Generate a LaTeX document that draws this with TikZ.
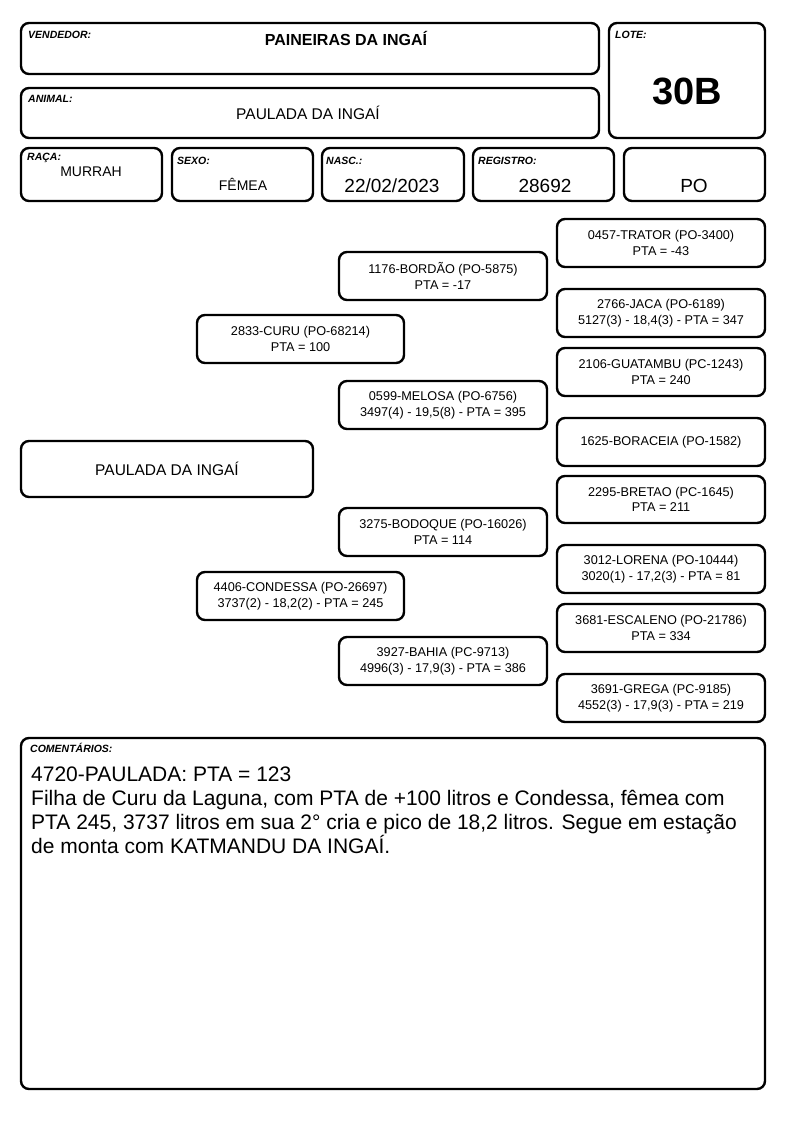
\documentclass[tikz,border=0pt]{standalone}
\usepackage{fontspec}
\setmainfont{Liberation Sans}
\begin{document}
\begin{tikzpicture}[x=1pt,y=-1pt,
  box/.style={draw=black, line width=2.4pt, rounded corners=8pt, fill=white, inner sep=0pt},
  ped/.style={box, minimum width=208pt, minimum height=48pt, align=center, font=\fontsize{12.7}{15.5}\selectfont},
  lbl/.style={anchor=west, inner sep=0pt, font=\fontsize{10.5}{12}\selectfont\bfseries\itshape},
  val/.style={inner sep=0pt}]
\useasboundingbox (0,0) rectangle (794,1123);
% header boxes
\node[box, minimum width=578pt, minimum height=51pt] (vend) at (310,48.5) {};
\node[box, minimum width=156pt, minimum height=115pt] (lote) at (687,80.5) {};
\node[box, minimum width=578pt, minimum height=50pt] (anim) at (310,113) {};
\node[box, minimum width=141pt, minimum height=53pt] (raca) at (91.5,174.5) {};
\node[box, minimum width=141pt, minimum height=53pt] (sexo) at (242.5,174.5) {};
\node[box, minimum width=142pt, minimum height=53pt] (nasc) at (393,174.5) {};
\node[box, minimum width=141pt, minimum height=53pt] (regi) at (543.5,174.5) {};
\node[box, minimum width=141pt, minimum height=53pt] (cat) at (694.5,174.5) {};
% labels
\node[lbl] (lvend) at (28,35) {VENDEDOR:};
\node[lbl] (llote) at (615,35) {LOTE:};
\node[lbl] (lanim) at (28,99) {ANIMAL:};
\node[lbl] (lraca) at (27,158) {RAÇA:};
\node[lbl] (lsexo) at (177,161) {SEXO:};
\node[lbl] (lnasc) at (326,161) {NASC.:};
\node[lbl] (lregi) at (478,161) {REGISTRO:};
% values
\node[val, font=\fontsize{16}{19}\selectfont\bfseries] (vvend) at (346,38) {PAINEIRAS DA INGAÍ};
\node[val, font=\fontsize{38}{44}\selectfont\bfseries] (vlote) at (687,91) {30B};
\node[val, font=\fontsize{15.5}{18}\selectfont] (vanim) at (308,113) {PAULADA DA INGAÍ};
\node[val, font=\fontsize{14}{17}\selectfont] (vraca) at (91,172) {MURRAH};
\node[val, font=\fontsize{14}{17}\selectfont] (vsexo) at (243,184) {FÊMEA};
\node[val, font=\fontsize{19}{22}\selectfont] (vnasc) at (392,186) {22/02/2023};
\node[val, font=\fontsize{19}{22}\selectfont] (vregi) at (545,186) {28692};
\node[val, font=\fontsize{19}{22}\selectfont] (vcat) at (694,186) {PO};
% pedigree
\node[box, minimum width=292pt, minimum height=56pt, font=\fontsize{15.5}{18}\selectfont] (main) at (167,469) {PAULADA DA INGAÍ};
\node[ped, minimum width=207pt] (curu) at (300.5,339) {2833-CURU (PO-68214)\\PTA = 100};
\node[ped, minimum width=207pt] (cond) at (300.5,596) {4406-CONDESSA (PO-26697)\\3737(2) - 18,2(2) - PTA = 245};
\node[ped] (bord) at (443,276) {1176-BORDÃO (PO-5875)\\PTA = -17};
\node[ped] (melo) at (443,405) {0599-MELOSA (PO-6756)\\3497(4) - 19,5(8) - PTA = 395};
\node[ped] (bodo) at (443,532) {3275-BODOQUE (PO-16026)\\PTA = 114};
\node[ped] (bahi) at (443,661) {3927-BAHIA (PC-9713)\\4996(3) - 17,9(3) - PTA = 386};
\node[ped] (trat) at (661,243) {0457-TRATOR (PO-3400)\\PTA = -43};
\node[ped] (jaca) at (661,313) {2766-JACA (PO-6189)\\5127(3) - 18,4(3) - PTA = 347};
\node[ped] (guat) at (661,372) {2106-GUATAMBU (PC-1243)\\PTA = 240};
\node[ped] (bora) at (661,442) {1625-BORACEIA (PO-1582)};
\node[ped, minimum height=47pt] (bret) at (661,499.5) {2295-BRETAO (PC-1645)\\PTA = 211};
\node[ped] (lore) at (661,569) {3012-LORENA (PO-10444)\\3020(1) - 17,2(3) - PTA = 81};
\node[ped] (esca) at (661,628) {3681-ESCALENO (PO-21786)\\PTA = 334};
\node[ped] (greg) at (661,698) {3691-GREGA (PC-9185)\\4552(3) - 17,9(3) - PTA = 219};
% comments
\node[box, minimum width=744pt, minimum height=351pt] (com) at (393,913.5) {};
\node[lbl] (lcom) at (30,748) {COMENTÁRIOS:};
\node[anchor=north west, inner sep=0pt, align=left, font=\fontsize{21}{24}\selectfont] (tcom) at (31,767)
{4720-PAULADA: PTA = 123\\
Filha de Curu da Laguna, com PTA de +100 litros e Condessa, fêmea com\\
PTA 245, 3737 litros em sua 2° cria e pico de 18,2 litros. Segue em estação\\
de monta com KATMANDU DA INGAÍ.};
\end{tikzpicture}
\end{document}
